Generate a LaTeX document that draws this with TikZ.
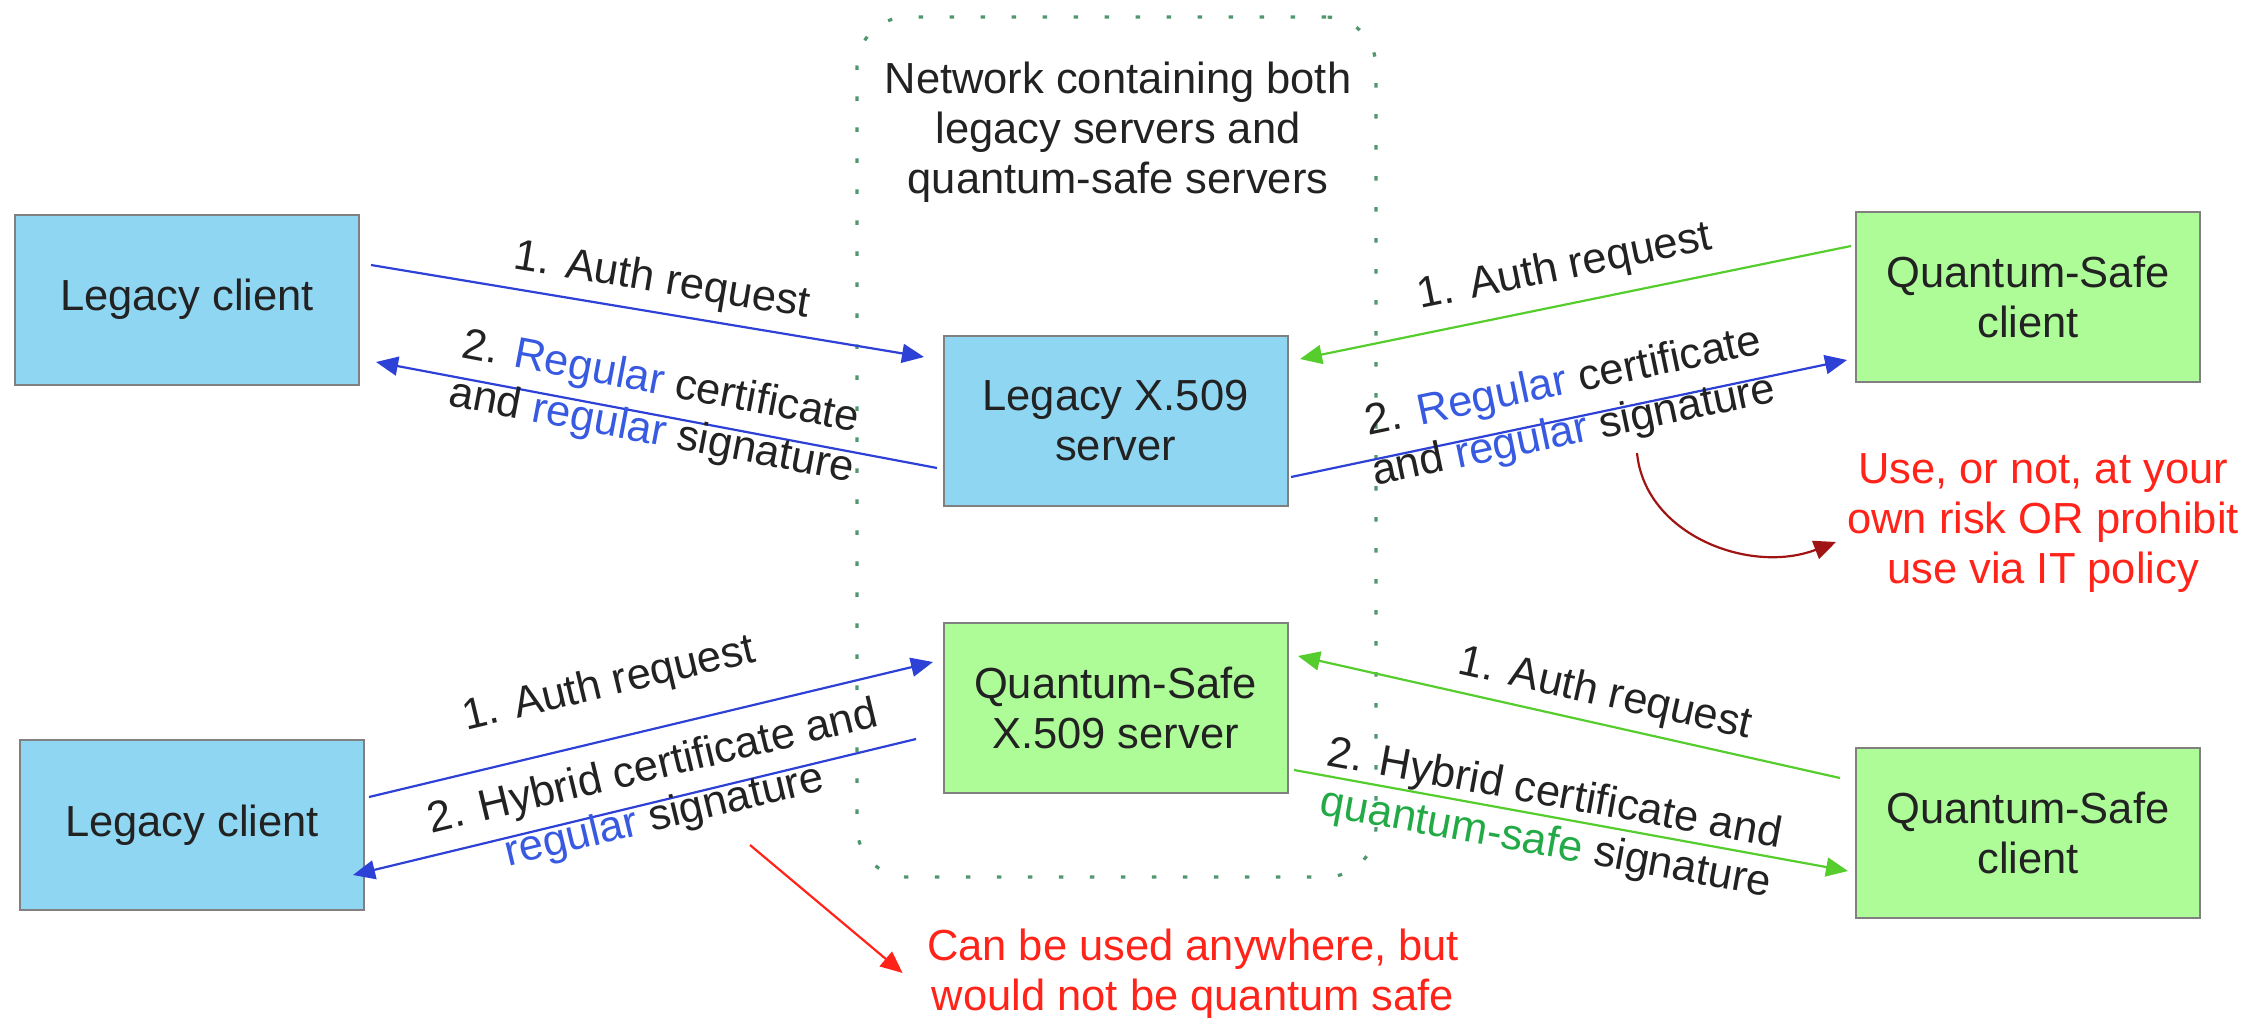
\documentclass[tikz,border=0pt]{standalone}
\usepackage{fontspec}
\setmainfont{Liberation Sans}
\usetikzlibrary{arrows.meta,calc}
\definecolor{legfill}{RGB}{143,214,242}
\definecolor{qsfill}{RGB}{174,252,152}
\definecolor{boxborder}{RGB}{128,128,128}
\definecolor{txt}{RGB}{34,34,34}
\definecolor{arrblue}{RGB}{45,65,215}
\definecolor{tblue}{RGB}{55,90,225}
\definecolor{arrgreen}{RGB}{85,205,45}
\definecolor{tgreen}{RGB}{35,170,70}
\definecolor{tred}{RGB}{255,35,25}
\definecolor{darkred}{RGB}{160,20,20}
\definecolor{netdots}{RGB}{80,150,110}
\begin{document}
\begin{tikzpicture}[x=0.5pt,y=-0.5pt,
  basefont/.style={font=\fontsize{21.75}{25}\selectfont},
  box/.style={basefont, draw=boxborder, line width=1pt, minimum width=172pt, minimum height=85pt, align=center, text=txt, inner sep=0pt},
  legacy/.style={box, fill=legfill},
  qsafe/.style={box, fill=qsfill},
  lbl/.style={basefont, align=center, text=txt, inner sep=0pt},
  redlbl/.style={basefont, align=center, text=tred, inner sep=0pt},
  tip/.style={-{Triangle[length=11pt,width=9.5pt]}},
  bluearr/.style={draw=arrblue, line width=1.1pt, tip},
  greenarr/.style={draw=arrgreen, line width=1.1pt, tip}
]
\useasboundingbox (0,0) rectangle (2247,1017);

% network container
\node (net) [draw=netdots, line width=1.6pt, dash pattern=on 2.2pt off 13.3pt, rounded corners=25pt,
  minimum width=259.5pt, minimum height=430pt] at (1116.5,447) {};
\node (title) [lbl] at (1118,132) {Network containing both\\legacy servers and\\quantum-safe servers};

% boxes
\node (lc1) [legacy] at (187,299.5) {Legacy client};
\node (lxs) [legacy] at (1115.5,421) {Legacy X.509\\server};
\node (qsc1) [qsafe] at (2028,296.5) {Quantum-Safe\\client};
\node (qss) [qsafe] at (1115.5,708) {Quantum-Safe\\X.509 server};
\node (lc2) [legacy] at (192,825) {Legacy client};
\node (qsc2) [qsafe] at (2028,832.5) {Quantum-Safe\\client};

% connectors
\draw[bluearr] ($(lc1.east)+(11,-34.5)$) -- ($(lxs.west)+(-18.5,-64)$);
\draw[bluearr] ($(lxs.west)+(-5.5,47)$) -- ($(lc1.east)+(16,62.5)$);
\draw[greenarr] ($(qsc1.west)+(-4,-50.5)$) -- ($(lxs.east)+(11.5,-62)$);
\draw[bluearr] ($(lxs.east)+(2.5,56)$) -- ($(qsc1.west)+(-8,63.5)$);
\draw[bluearr] ($(lc2.east)+(4,-28)$) -- ($(qss.west)+(-9.5,-46)$);
\draw[bluearr] ($(qss.west)+(-26.5,31)$) -- ($(lc2.east)+(-12,50)$);
\draw[greenarr] ($(qsc2.west)+(-15,-54.5)$) -- ($(qss.east)+(9.5,-52)$);
\draw[greenarr] ($(qss.east)+(5.5,62)$) -- ($(qsc2.west)+(-7,38.5)$);

% labels
\node (l1) [lbl, rotate=-9.4] at (662,282) {1. Auth request};
\node (l2) [lbl, rotate=-10.7] at (656,408) {2. \textcolor{tblue}{Regular} certificate\\and \textcolor{tblue}{regular} signature};
\node (l3) [lbl, rotate=11.5] at (1565,268) {1. Auth request};
\node (l4) [lbl, rotate=11.8] at (1569,408) {2. \textcolor{tblue}{Regular} certificate\\and \textcolor{tblue}{regular} signature};
\node (l5) [lbl, rotate=13.4] at (609,685) {1. Auth request};
\node (l6) [lbl, rotate=13.5] at (659,793) {2. Hybrid certificate and\\\textcolor{tblue}{regular} signature};
\node (l7) [lbl, rotate=-12.6] at (1605,695) {1. Auth request};
\node (l8) [lbl, rotate=-10.3] at (1550,820) {2. Hybrid certificate and\\\textcolor{tgreen}{quantum-safe} signature};

% red notes
\node (r1) [redlbl] at (2043,523) {Use, or not, at your\\own risk OR prohibit\\use via IT policy};
\node (r2) [redlbl] at (1193,974) {Can be used anywhere, but\\would not be quantum safe};

\coordinate (c1s) at (1637,453);
\coordinate (c1e) at (1836,542);
\draw[draw=darkred, line width=1.1pt, tip] (c1s) .. controls (1645,535) and (1750,575) .. (c1e);
\coordinate (c2s) at (750,845);
\draw[draw=tred, line width=1.1pt, tip] (c2s) -- ($(r2.west)+(-24,-1)$);
\end{tikzpicture}
\end{document}
